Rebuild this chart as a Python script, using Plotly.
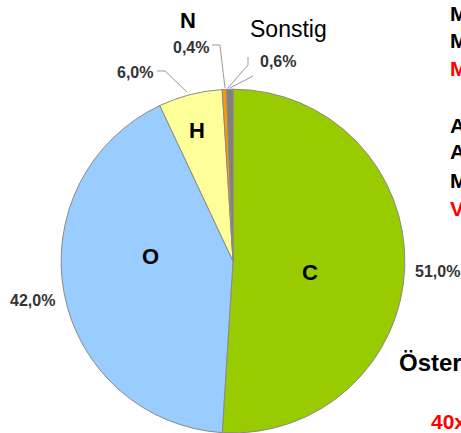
import plotly.graph_objects as go

W, H = 461, 433

# Data
elements = ["C", "O", "H", "N", "Sonstig"]
shares = [51.0, 42.0, 6.0, 0.4, 0.6]
pct_labels = ["51,0%", "42,0%", "6,0%", "0,4%", "0,6%"]
colors = ["#99CC00", "#99CCFF", "#FFFF99", "#FF9900", "#808080"]

# visible (cropped) slide text on the right
side_texts = ["M", "M", "M", "A", "A", "M", "V"]
side_colors = ["#000000", "#000000", "#FF0000", "#000000", "#000000", "#000000", "#FF0000"]
side_y = [13, 40, 68, 125, 152, 180, 208]
bottom_title = "Öster"
bottom_red = "40x"

def px(x):
    return x / W

def py(y):
    return 1 - y / H

fig = go.Figure()
fig.add_trace(go.Pie(
    labels=elements,
    values=shares,
    sort=False,
    direction="clockwise",
    rotation=0,
    marker=dict(colors=colors, line=dict(color="#8a8a8a", width=1)),
    textinfo="none",
    hoverinfo="label+percent",
    showlegend=False,
    domain=dict(x=[60 / W, 406 / W], y=[0, 0.794]),
))

ann = []
font_big = dict(family="Liberation Sans, Arial", size=22, color="#000000")
font_pct = dict(family="Liberation Sans, Arial", size=16, color="#333333")

# element letters inside / near slices
letter_pos = {"C": (310, 272), "O": (150, 256), "H": (197, 130), "N": (188, 21)}
for el, (x, y) in letter_pos.items():
    ann.append(dict(x=px(x), y=py(y), text="<b>%s</b>" % el, font=font_big))
ann.append(dict(x=px(288), y=py(29), text="Sonstig",
                font=dict(family="Liberation Sans, Arial", size=23, color="#000000")))

# percentage labels
pct_pos = [(437, 271), (32, 300), (135, 72), (191, 47), (278, 61)]
for t, (x, y) in zip(pct_labels, pct_pos):
    ann.append(dict(x=px(x), y=py(y), text="<b>%s</b>" % t, font=font_pct))

# cropped slide text on the right
for t, y, c in zip(side_texts, side_y, side_colors):
    ann.append(dict(x=px(448), y=py(y), xanchor="left", text="<b>%s</b>" % t,
                    font=dict(family="Liberation Sans, Arial", size=21, color=c)))
ann.append(dict(x=px(397), y=py(362), xanchor="left", text="<b>%s</b>" % bottom_title,
                font=dict(family="Liberation Sans, Arial", size=24, color="#000000")))
ann.append(dict(x=px(429), y=py(421), xanchor="left", text="<b>%s</b>" % bottom_red,
                font=dict(family="Liberation Sans, Arial", size=21, color="#FF0000")))

for a in ann:
    a.update(xref="paper", yref="paper", showarrow=False)
    a.setdefault("xanchor", "center")
    a.setdefault("yanchor", "middle")

# leader lines
leaders = [
    [(157, 71), (165, 71), (187, 92)],
    [(212, 45), (220, 45), (225, 88)],
    [(248, 57), (248, 65), (228, 88)],
    [(253, 76), (230, 88)],
]
shapes = []
for pts in leaders:
    path = "M " + " L ".join("%f,%f" % (px(x), py(y)) for x, y in pts)
    shapes.append(dict(type="path", xref="paper", yref="paper", path=path,
                       line=dict(color="#9a9a9a", width=1)))

fig.update_layout(
    width=W, height=H,
    margin=dict(l=0, r=0, t=0, b=0),
    paper_bgcolor="white",
    plot_bgcolor="white",
    annotations=ann,
    shapes=shapes,
)

fig.write_html("out.html", config={"displayModeBar": False},
               post_script="document.body.style.margin='0';")
